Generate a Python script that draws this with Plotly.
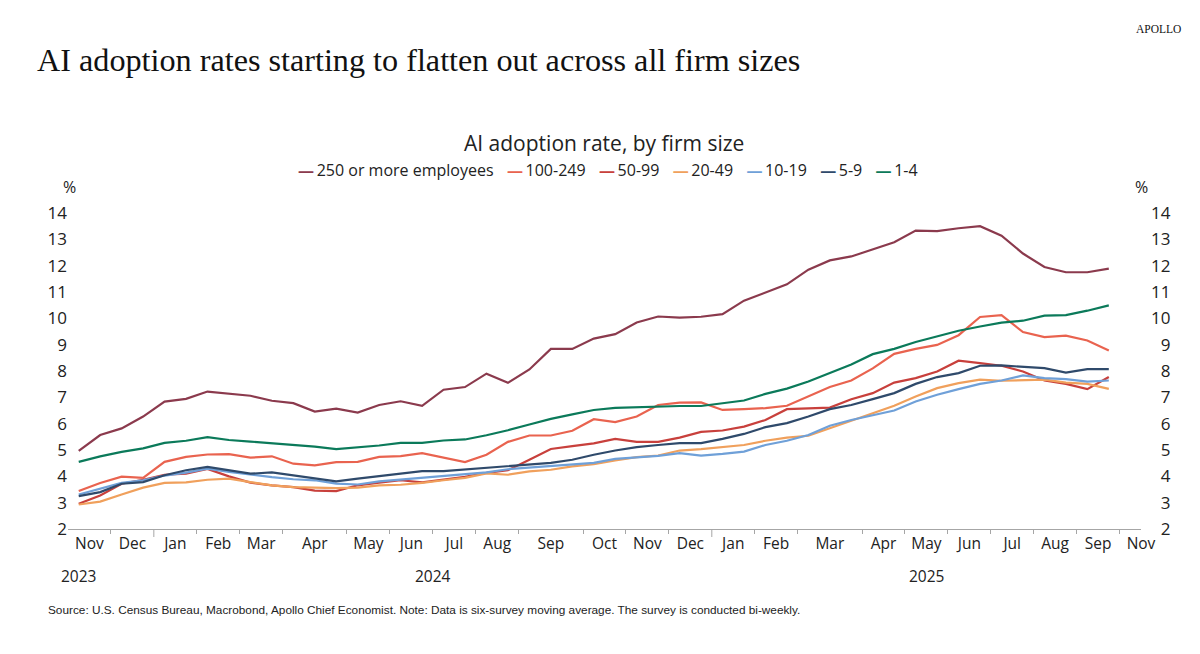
import plotly.graph_objects as go

# ---------------- data ----------------
MONTHS = ["Nov", "Dec", "Jan", "Feb", "Mar", "Apr", "May", "Jun", "Jul", "Aug", "Sep", "Oct",
          "Nov", "Dec", "Jan", "Feb", "Mar", "Apr", "May", "Jun", "Jul", "Aug", "Sep", "Nov"]
SURVEYS_PER_MONTH = [2, 2, 2, 2, 2, 3, 2, 2, 2, 2, 3, 2, 2, 2, 2, 2, 3, 2, 2, 2, 2, 2, 2, 2]
YEARS = ["2023", "2024", "2025"]
YEAR_START_MONTH = [0, 2, 14]          # index into MONTHS of first month shown for each year

SERIES_NAMES = ["250 or more employees", "100-249", "50-99", "20-49", "10-19", "5-9", "1-4"]

S_250 = [4.97, 5.57, 5.82, 6.27, 6.84, 6.94, 7.22, 7.13, 7.06, 6.87,
         6.78, 6.46, 6.57, 6.42, 6.71, 6.85, 6.68, 7.29, 7.39, 7.90,
         7.55, 8.06, 8.84, 8.84, 9.23, 9.40, 9.84, 10.07, 10.03, 10.06,
         10.16, 10.67, 10.99, 11.29, 11.85, 12.20, 12.35, 12.63, 12.89, 13.33,
         13.31, 13.42, 13.50, 13.14, 12.46, 11.95, 11.75, 11.75, 11.89]
S_100 = [3.44, 3.75, 3.99, 3.94, 4.55, 4.74, 4.83, 4.84, 4.71, 4.76,
         4.48, 4.42, 4.54, 4.55, 4.74, 4.77, 4.88, 4.71, 4.54, 4.82,
         5.31, 5.55, 5.55, 5.73, 6.17, 6.06, 6.27, 6.71, 6.80, 6.81,
         6.52, 6.55, 6.59, 6.68, 7.03, 7.39, 7.64, 8.10, 8.65, 8.84,
         8.99, 9.36, 10.05, 10.12, 9.48, 9.29, 9.34, 9.16, 8.78]
S_50 = [2.96, 3.27, 3.72, 3.87, 4.06, 4.10, 4.28, 4.00, 3.76, 3.66,
        3.59, 3.46, 3.44, 3.66, 3.76, 3.85, 3.77, 3.87, 3.98, 4.13,
        4.23, 4.63, 5.04, 5.15, 5.25, 5.42, 5.31, 5.31, 5.47, 5.69,
        5.74, 5.89, 6.14, 6.55, 6.59, 6.61, 6.93, 7.16, 7.56, 7.73,
        7.98, 8.39, 8.30, 8.20, 7.98, 7.64, 7.51, 7.31, 7.77]
S_20 = [2.93, 3.04, 3.31, 3.57, 3.75, 3.77, 3.87, 3.91, 3.78, 3.66,
        3.59, 3.57, 3.55, 3.57, 3.66, 3.68, 3.75, 3.85, 3.94, 4.11,
        4.06, 4.19, 4.25, 4.38, 4.46, 4.60, 4.73, 4.79, 4.98, 5.03,
        5.11, 5.19, 5.35, 5.47, 5.54, 5.83, 6.12, 6.40, 6.68, 7.03,
        7.35, 7.54, 7.67, 7.63, 7.65, 7.67, 7.56, 7.51, 7.32]
S_10 = [3.31, 3.53, 3.75, 3.85, 4.03, 4.14, 4.29, 4.17, 4.06, 3.97,
        3.89, 3.85, 3.72, 3.69, 3.81, 3.88, 3.96, 4.01, 4.08, 4.15,
        4.27, 4.33, 4.38, 4.44, 4.51, 4.66, 4.73, 4.78, 4.88, 4.79,
        4.85, 4.94, 5.19, 5.35, 5.57, 5.92, 6.14, 6.31, 6.50, 6.84,
        7.10, 7.31, 7.51, 7.64, 7.83, 7.73, 7.69, 7.60, 7.64]
S_5 = [3.25, 3.40, 3.72, 3.78, 4.04, 4.23, 4.36, 4.23, 4.10, 4.15,
       4.04, 3.91, 3.81, 3.91, 4.01, 4.10, 4.20, 4.20, 4.26, 4.31,
       4.37, 4.45, 4.51, 4.63, 4.82, 4.98, 5.11, 5.19, 5.26, 5.26,
       5.42, 5.61, 5.87, 6.02, 6.27, 6.55, 6.71, 6.93, 7.16, 7.51,
       7.77, 7.92, 8.20, 8.21, 8.15, 8.11, 7.94, 8.07, 8.07]
S_1 = [4.55, 4.76, 4.93, 5.06, 5.27, 5.35, 5.49, 5.38, 5.32, 5.25,
       5.18, 5.13, 5.03, 5.10, 5.17, 5.27, 5.27, 5.36, 5.40, 5.56,
       5.75, 5.97, 6.18, 6.35, 6.52, 6.60, 6.63, 6.65, 6.67, 6.67,
       6.78, 6.88, 7.13, 7.33, 7.60, 7.92, 8.25, 8.64, 8.84, 9.10,
       9.31, 9.53, 9.69, 9.84, 9.91, 10.10, 10.12, 10.29, 10.49]
SERIES = [S_250, S_100, S_50, S_20, S_10, S_5, S_1]

Y_TICKS = list(range(2, 15))

# ---------------- styles ----------------
COLORS = ["#8B3A4D", "#E9634F", "#C8403C", "#F0A05C", "#6FA0D8", "#2F4A6B", "#0B7A5A"]
SANS = "Open Sans"
SERIF = "Liberation Serif"
TXT = "#222222"

OFF = 8                      # page body margin of the browser
W, H = 1200 - OFF, 654 - OFF
L, R, T, B = 68 - OFF, 59, 213 - OFF, 125
PW, PH = W - L - R, H - T - B


def px(x):
    """screen x (px) -> paper fraction"""
    return (x - OFF - L) / PW


def py(y):
    """screen y (px) -> paper fraction"""
    return (H - B - (y - OFF)) / PH


# survey positions / month geometry (category-like axis)
n_points = len(S_250)
x_idx = list(range(n_points))
starts = []
s = 0
for c in SURVEYS_PER_MONTH:
    starts.append(s)
    s += c
label_pos = [st + c / 2 - 0.5 for st, c in zip(starts, SURVEYS_PER_MONTH)]
boundaries = [st - 0.5 for st in starts[1:]]
year_bounds = [starts[i] - 0.5 for i in YEAR_START_MONTH[1:]]
month_bounds = [b for b in boundaries if b not in year_bounds]
x_range = [-0.5, n_points + 0.5]
year_pos = [0, (year_bounds[0] + year_bounds[1]) / 2, (year_bounds[1] + x_range[1]) / 2]

fig = go.Figure()
for i, (name, ys, col) in enumerate(zip(SERIES_NAMES, SERIES, COLORS)):
    fig.add_trace(go.Scatter(
        x=x_idx, y=ys, name=name, mode="lines",
        line=dict(color=col, width=2.2),
        yaxis="y2" if i == len(SERIES) - 1 else "y",
        showlegend=False,
    ))

fig.update_layout(
    width=W, height=H, autosize=False,
    margin=dict(l=L, r=R, t=T, b=B, pad=0),
    paper_bgcolor="white", plot_bgcolor="white",
    font=dict(family=SANS, color=TXT),
    xaxis=dict(
        range=x_range, showgrid=False, zeroline=False,
        showline=True, linecolor="#A6A6A6", linewidth=1,
        tickmode="array", tickvals=label_pos, ticktext=MONTHS, ticks="",
        tickfont=dict(size=15.5, color=TXT),
        minor=dict(tickmode="array", tickvals=month_bounds, ticks="outside",
                   ticklen=4, tickwidth=1, tickcolor="#A6A6A6"),
    ),
    yaxis=dict(
        range=[2, 14], showgrid=False, zeroline=False, showline=False,
        tickmode="array", tickvals=Y_TICKS, ticktext=[str(v) for v in Y_TICKS],
        ticks="", tickfont=dict(size=17, color=TXT),
    ),
    yaxis2=dict(
        range=[2, 14], overlaying="y", side="right", showgrid=False, zeroline=False,
        showline=False, tickmode="array", tickvals=Y_TICKS,
        ticktext=[("\u2007" + str(v)) if v < 10 else str(v) for v in Y_TICKS],
        ticks="", tickfont=dict(size=17, color=TXT), ticklabelstandoff=9,
    ),
)

# long ticks at year boundaries
for b in year_bounds:
    fig.add_shape(type="line", xref="x", yref="paper", x0=b, x1=b,
                  ysizemode="pixel", yanchor=0, y0=0, y1=-8,
                  line=dict(color="#A6A6A6", width=1))

ann = []
ann.append(dict(text="AI adoption rates starting to flatten out across all firm sizes",
                x=px(35), y=py(60), xanchor="left", yanchor="middle",
                font=dict(family=SERIF, size=32.2, color="#111111")))
ann.append(dict(text="APOLLO", x=px(1183), y=py(29), xanchor="right", yanchor="middle",
                font=dict(family=SERIF, size=11.5, color="#111111")))
ann.append(dict(text="AI adoption rate, by firm size", x=px(604), y=py(143),
                xanchor="center", yanchor="middle", font=dict(size=21, color=TXT)))
legend_txt = "\u2002\u2004".join(
    f'<span style="color:{c}"><b>\u2014</b></span>\u2009{n}' for n, c in zip(SERIES_NAMES, COLORS))
ann.append(dict(text=legend_txt, x=px(608), y=py(170), xanchor="center", yanchor="middle",
                font=dict(size=16, color=TXT)))
ann.append(dict(text="%", x=px(69), y=py(187), xanchor="center", yanchor="middle",
                font=dict(size=16, color=TXT)))
ann.append(dict(text="%", x=px(1141), y=py(187), xanchor="center", yanchor="middle",
                font=dict(size=16, color=TXT)))
for yr, xp in zip(YEARS, year_pos):
    ann.append(dict(text=yr, x=xp, xref="x", y=py(576), yref="paper",
                    xanchor="center", yanchor="middle", font=dict(size=15.5, color=TXT)))
ann.append(dict(text="Source: U.S. Census Bureau, Macrobond, Apollo Chief Economist. Note: Data is six-survey "
                     "moving average. The survey is conducted bi-weekly.",
                x=px(46), y=py(610), xanchor="left", yanchor="middle",
                font=dict(family="Liberation Sans", size=11.8, color=TXT)))
for a in ann:
    a.setdefault("xref", "paper")
    a.setdefault("yref", "paper")
    a["showarrow"] = False
fig.update_layout(annotations=ann)

fig.write_html("out.html")
